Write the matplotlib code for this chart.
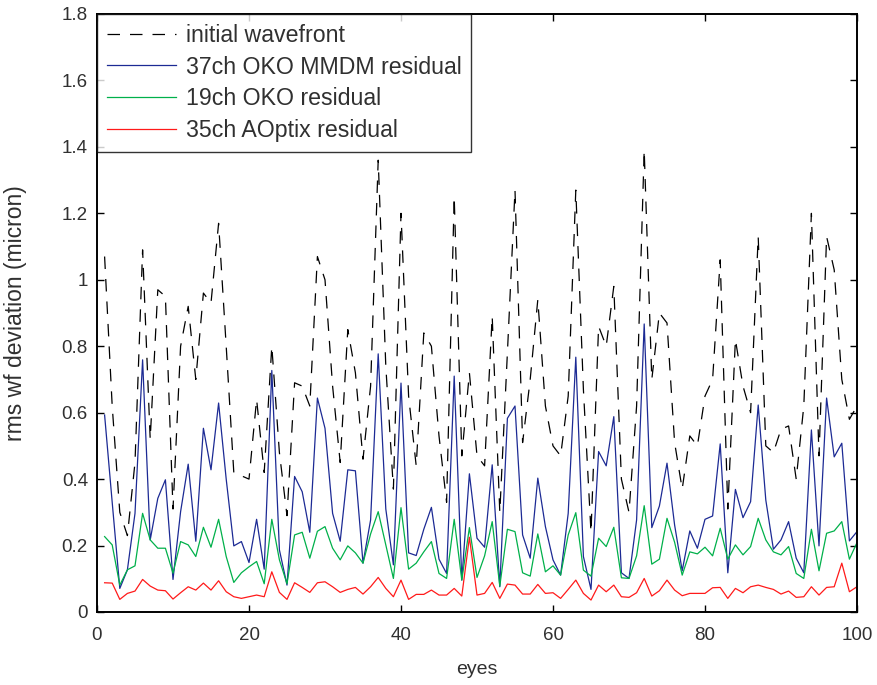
import matplotlib
matplotlib.use("Agg")
import matplotlib.pyplot as plt
import numpy as np

eyes = list(range(1, 101))

initial_wavefront = [
    1.07, 0.62, 0.30, 0.23, 0.45, 1.09, 0.52, 0.97, 0.95, 0.31,
    0.80, 0.92, 0.70, 0.96, 0.93, 1.17, 0.80, 0.42, 0.41, 0.40,
    0.64, 0.42, 0.80, 0.48, 0.29, 0.69, 0.68, 0.62, 1.07, 1.00,
    0.68, 0.45, 0.85, 0.72, 0.46, 0.68, 1.36, 0.74, 0.37, 1.20,
    0.65, 0.44, 0.84, 0.80, 0.53, 0.33, 1.25, 0.47, 0.72, 0.47,
    0.44, 0.89, 0.30, 0.78, 1.27, 0.51, 0.70, 0.94, 0.62, 0.50,
    0.47, 0.65, 1.27, 0.67, 0.24, 0.86, 0.80, 0.98, 0.40, 0.30,
    0.62, 1.39, 0.70, 0.90, 0.87, 0.51, 0.37, 0.53, 0.50, 0.65,
    0.70, 1.06, 0.31, 0.82, 0.68, 0.60, 1.13, 0.50, 0.48, 0.55,
    0.56, 0.40, 0.62, 1.20, 0.47, 1.13, 1.03, 0.70, 0.58, 0.62,
]

oko37_residual = [
    0.593, 0.33, 0.071, 0.127, 0.297, 0.759, 0.217, 0.342, 0.398, 0.098,
    0.302, 0.445, 0.213, 0.553, 0.428, 0.629, 0.40, 0.199, 0.212, 0.149,
    0.279, 0.129, 0.727, 0.187, 0.081, 0.408, 0.362, 0.240, 0.644, 0.553,
    0.297, 0.213, 0.428, 0.425, 0.147, 0.277, 0.777, 0.31, 0.142, 0.689,
    0.178, 0.170, 0.249, 0.315, 0.159, 0.116, 0.710, 0.096, 0.416, 0.222,
    0.195, 0.443, 0.076, 0.583, 0.620, 0.232, 0.162, 0.403, 0.257, 0.157,
    0.111, 0.297, 0.767, 0.167, 0.068, 0.483, 0.440, 0.588, 0.118, 0.101,
    0.277, 0.867, 0.254, 0.319, 0.448, 0.262, 0.124, 0.244, 0.192, 0.279,
    0.289, 0.506, 0.118, 0.369, 0.284, 0.332, 0.623, 0.337, 0.189, 0.217,
    0.272, 0.162, 0.118, 0.548, 0.199, 0.644, 0.467, 0.508, 0.214, 0.242,
]

oko19_residual = [
    0.227, 0.202, 0.081, 0.127, 0.139, 0.297, 0.217, 0.192, 0.192, 0.117,
    0.212, 0.202, 0.167, 0.255, 0.195, 0.279, 0.167, 0.089, 0.118, 0.136,
    0.152, 0.085, 0.279, 0.157, 0.085, 0.232, 0.240, 0.162, 0.243, 0.257,
    0.192, 0.157, 0.199, 0.178, 0.147, 0.235, 0.302, 0.202, 0.101, 0.314,
    0.129, 0.147, 0.181, 0.212, 0.116, 0.101, 0.279, 0.096, 0.254, 0.104,
    0.169, 0.272, 0.078, 0.249, 0.242, 0.118, 0.108, 0.235, 0.121, 0.139,
    0.111, 0.232, 0.299, 0.126, 0.108, 0.222, 0.197, 0.255, 0.103, 0.101,
    0.169, 0.320, 0.144, 0.159, 0.282, 0.210, 0.111, 0.181, 0.175, 0.195,
    0.169, 0.252, 0.159, 0.202, 0.172, 0.197, 0.282, 0.217, 0.181, 0.172,
    0.197, 0.116, 0.101, 0.249, 0.124, 0.237, 0.244, 0.272, 0.159, 0.209,
]

aoptix35_residual = [
    0.088, 0.087, 0.038, 0.056, 0.063, 0.098, 0.078, 0.066, 0.064, 0.039,
    0.058, 0.076, 0.066, 0.087, 0.066, 0.094, 0.061, 0.046, 0.041, 0.046,
    0.051, 0.046, 0.121, 0.059, 0.038, 0.088, 0.074, 0.059, 0.088, 0.091,
    0.076, 0.059, 0.068, 0.074, 0.054, 0.076, 0.104, 0.071, 0.046, 0.096,
    0.038, 0.053, 0.053, 0.066, 0.051, 0.051, 0.071, 0.048, 0.225, 0.051,
    0.056, 0.089, 0.041, 0.084, 0.081, 0.054, 0.054, 0.083, 0.056, 0.058,
    0.041, 0.068, 0.096, 0.056, 0.036, 0.081, 0.061, 0.081, 0.046, 0.044,
    0.058, 0.101, 0.048, 0.064, 0.096, 0.066, 0.049, 0.056, 0.056, 0.056,
    0.073, 0.074, 0.041, 0.071, 0.058, 0.076, 0.081, 0.074, 0.068, 0.054,
    0.063, 0.044, 0.046, 0.076, 0.051, 0.074, 0.076, 0.147, 0.061, 0.076,
]

series_labels = ["initial wavefront", "37ch OKO MMDM residual",
                 "19ch OKO residual", "35ch AOptix residual"]
x_ticks = [0, 20, 40, 60, 80, 100]
y_ticks = [0, 0.2, 0.4, 0.6, 0.8, 1.0, 1.2, 1.4, 1.6, 1.8]
y_tick_labels = ["0", "0.2", "0.4", "0.6", "0.8", "1", "1.2", "1.4", "1.6", "1.8"]

plt.rcParams['font.family'] = ['Liberation Sans', 'DejaVu Sans']
text_color = '#303030'

fig = plt.figure(figsize=(8.78, 6.85), dpi=100)
ax = fig.add_axes([97/878, 1 - 612/685, 760/878, 598/685])

ax.plot(eyes, initial_wavefront, color='black', lw=0.9, dashes=(10, 8),
        label=series_labels[0])
ax.plot(eyes, oko37_residual, color='#1c2a94', lw=0.9, label=series_labels[1])
ax.plot(eyes, oko19_residual, color='#00b04a', lw=0.9, label=series_labels[2])
ax.plot(eyes, aoptix35_residual, color='#ff1a1a', lw=0.9, label=series_labels[3])

ax.set_xlim(0, 100)
ax.set_ylim(0, 1.8)
ax.set_xticks(x_ticks)
ax.set_yticks(y_ticks)
ax.set_yticklabels(y_tick_labels)
ax.tick_params(direction='in', length=5, width=1, top=True, right=True,
               labelsize=13.5, colors='black', labelcolor=text_color)
ax.tick_params(axis='x', pad=11)
ax.tick_params(axis='y', pad=6.5)
for s in ax.spines.values():
    s.set_linewidth(1.4)
    s.set_color('black')

ax.set_xlabel("eyes", fontsize=14, color=text_color, labelpad=12)
ax.set_ylabel("rms wf deviation (micron)", fontsize=16.5, color=text_color, labelpad=25)

leg = ax.legend(loc='upper left', fontsize=16.7, handlelength=3.0,
                borderaxespad=0, frameon=True, fancybox=False,
                edgecolor='black', labelspacing=0.38, borderpad=0.42,
                handletextpad=0.4)
leg.get_frame().set_linewidth(1.0)
for t in leg.get_texts():
    t.set_color(text_color)

fig.savefig("out.png", dpi=100)
